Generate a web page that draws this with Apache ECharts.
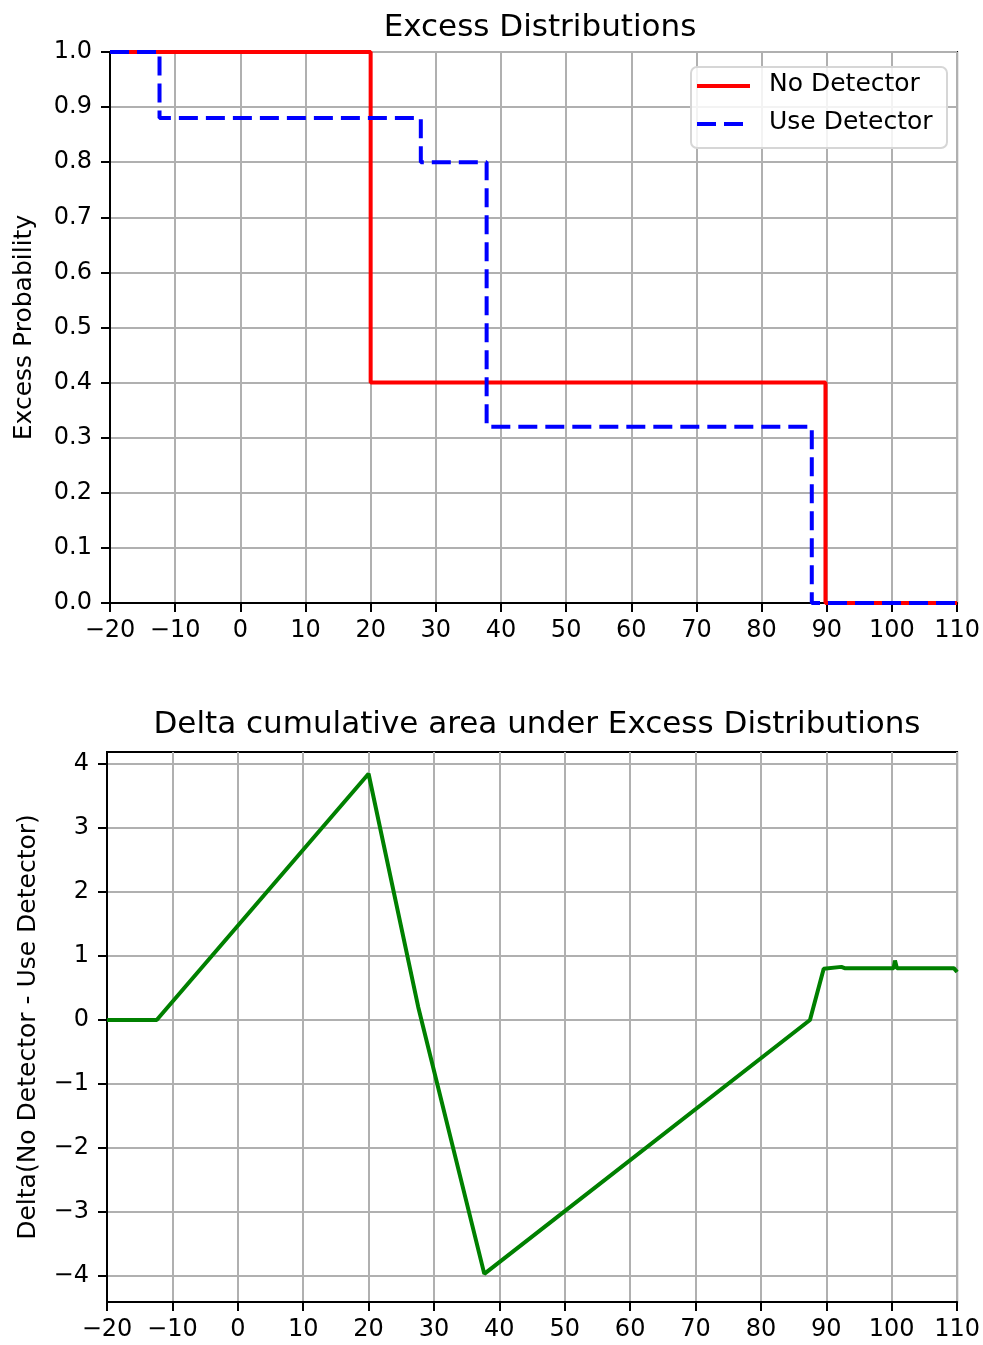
<!DOCTYPE html>
<html>
<head>
<meta charset="utf-8">
<script src="https://cdn.jsdelivr.net/npm/echarts@6/dist/echarts.min.js"></script>
<style>
html,body{margin:0;padding:0;background:#fff;}
#chart{width:983px;height:1345px;}
</style>
</head>
<body>
<div id="chart"></div>
<script>
// ---- data ----
var xTicks = [-20, -10, 0, 10, 20, 30, 40, 50, 60, 70, 80, 90, 100, 110];
var topYTicks = [0.0, 0.1, 0.2, 0.3, 0.4, 0.5, 0.6, 0.7, 0.8, 0.9, 1.0];
var bottomYTicks = [-4, -3, -2, -1, 0, 1, 2, 3, 4];
var legendNames = ['No Detector', 'Use Detector'];

// step points (value holds until next x)
var noDetX = [-20, 20, 89.8, 110];
var noDetY = [1.0, 0.4, 0.0, 0.0];
var useDetX = [-20, -12.4, 27.7, 37.8, 87.7, 110];
var useDetY = [1.0, 0.88, 0.80, 0.32, 0.0, 0.0];

var deltaX = [-20, -12.4, 20, 27.6, 37.7, 87.5, 89.6, 92.3, 92.8, 100.3, 100.5, 100.8, 109.5, 110];
var deltaY = [0, 0, 3.85, 0.2, -3.97, 0, 0.80, 0.83, 0.81, 0.81, 0.93, 0.81, 0.81, 0.75];

function pairs(xs, ys){ return xs.map(function(x,i){ return [x, ys[i]]; }); }
function minus(s){ return String(s).replace('-', '\u2212'); }

var FONT = 'DejaVu Sans';
var TXT = '#000';
var RED = '#ff0000', BLUE = '#0000ff', GREEN = '#008000';
var DASH = [19, 8];
var gridLine = {show:true, lineStyle:{color:'#b0b0b0', width:2}};
var tick = {show:true, inside:false, length:9, lineStyle:{color:'#000', width:2}};
var axLine = {show:true, onZero:false, lineStyle:{color:'#000', width:2}};

var chart = echarts.init(document.getElementById('chart'));
chart.setOption({
  animation:false,
  backgroundColor:'#fff',
  title:[
    {text:'Excess Distributions', left:535, top:7, textAlign:'center',
     textStyle:{fontFamily:FONT, fontSize:31, fontWeight:'normal', color:TXT}},
    {text:'Delta cumulative area under Excess Distributions', left:532, top:704, textAlign:'center',
     textStyle:{fontFamily:FONT, fontSize:31, fontWeight:'normal', color:TXT}}
  ],
  grid:[
    {left:110, top:52, width:850, height:551, show:true, borderColor:'#000', borderWidth:2, backgroundColor:'transparent'},
    {left:107, top:752, width:851, height:550, show:true, borderColor:'#000', borderWidth:2, backgroundColor:'transparent'}
  ],
  xAxis:[
    {type:'value', gridIndex:0, min:-20, max:110, interval:10,
     axisLine:axLine, axisTick:tick, splitLine:gridLine,
     axisLabel:{fontFamily:FONT, fontSize:24, color:TXT, margin:16, formatter:minus,
       customValues:xTicks}},
    {type:'value', gridIndex:1, min:-20, max:110, interval:10,
     axisLine:axLine, axisTick:tick, splitLine:gridLine,
     axisLabel:{fontFamily:FONT, fontSize:24, color:TXT, margin:16, formatter:minus,
       customValues:xTicks}}
  ],
  yAxis:[
    {type:'value', gridIndex:0, min:0, max:1, interval:0.1,
     name:'Excess Probability', nameLocation:'middle', nameGap:73, nameRotate:90,
     nameTextStyle:{fontFamily:FONT, fontSize:25, color:TXT},
     axisLine:axLine, axisTick:tick, splitLine:gridLine,
     axisLabel:{fontFamily:FONT, fontSize:24, color:TXT, margin:18,
       formatter:function(v){ return v.toFixed(1); }}},
    {type:'value', gridIndex:1, min:-4.41, max:4.19,
     name:'Delta(No Detector - Use Detector)', nameLocation:'middle', nameGap:66, nameRotate:90,
     nameTextStyle:{fontFamily:FONT, fontSize:25, color:TXT},
     axisLine:axLine,
     axisTick:{show:true, inside:false, length:9, lineStyle:{color:'#000', width:2}, customValues:bottomYTicks},
     splitLine:gridLine,
     axisLabel:{fontFamily:FONT, fontSize:24, color:TXT, margin:18, formatter:minus,
       customValues:bottomYTicks}}
  ],
  graphic:[
    {type:'rect', left:690, top:66, z:100,
     shape:{width:256, height:81, r:6},
     style:{fill:'rgba(255,255,255,0.85)', stroke:'#d6d6d6', lineWidth:2}},
    {type:'line', z:101, shape:{x1:697, y1:86, x2:750, y2:86},
     style:{stroke:RED, lineWidth:4}},
    {type:'line', z:101, shape:{x1:697, y1:124, x2:750, y2:124},
     style:{stroke:BLUE, lineWidth:4, lineDash:DASH}},
    {type:'text', z:101, left:769, top:72,
     style:{text:legendNames[0], font:'25px "DejaVu Sans"', fill:TXT}},
    {type:'text', z:101, left:769, top:110,
     style:{text:legendNames[1], font:'25px "DejaVu Sans"', fill:TXT}}
  ],
  series:[
    {name:legendNames[0], type:'line', xAxisIndex:0, yAxisIndex:0, step:'end',
     data:pairs(noDetX, noDetY), symbol:'none', z:3,
     lineStyle:{color:RED, width:4}, itemStyle:{color:RED}},
    {name:legendNames[1], type:'line', xAxisIndex:0, yAxisIndex:0, step:'end',
     data:pairs(useDetX, useDetY), symbol:'none', z:4,
     lineStyle:{color:BLUE, width:4, type:DASH}, itemStyle:{color:BLUE}},
    {name:'Delta', type:'line', xAxisIndex:1, yAxisIndex:1,
     data:pairs(deltaX, deltaY), symbol:'none',
     lineStyle:{color:GREEN, width:4}, itemStyle:{color:GREEN}}
  ]
});
</script>
</body>
</html>
